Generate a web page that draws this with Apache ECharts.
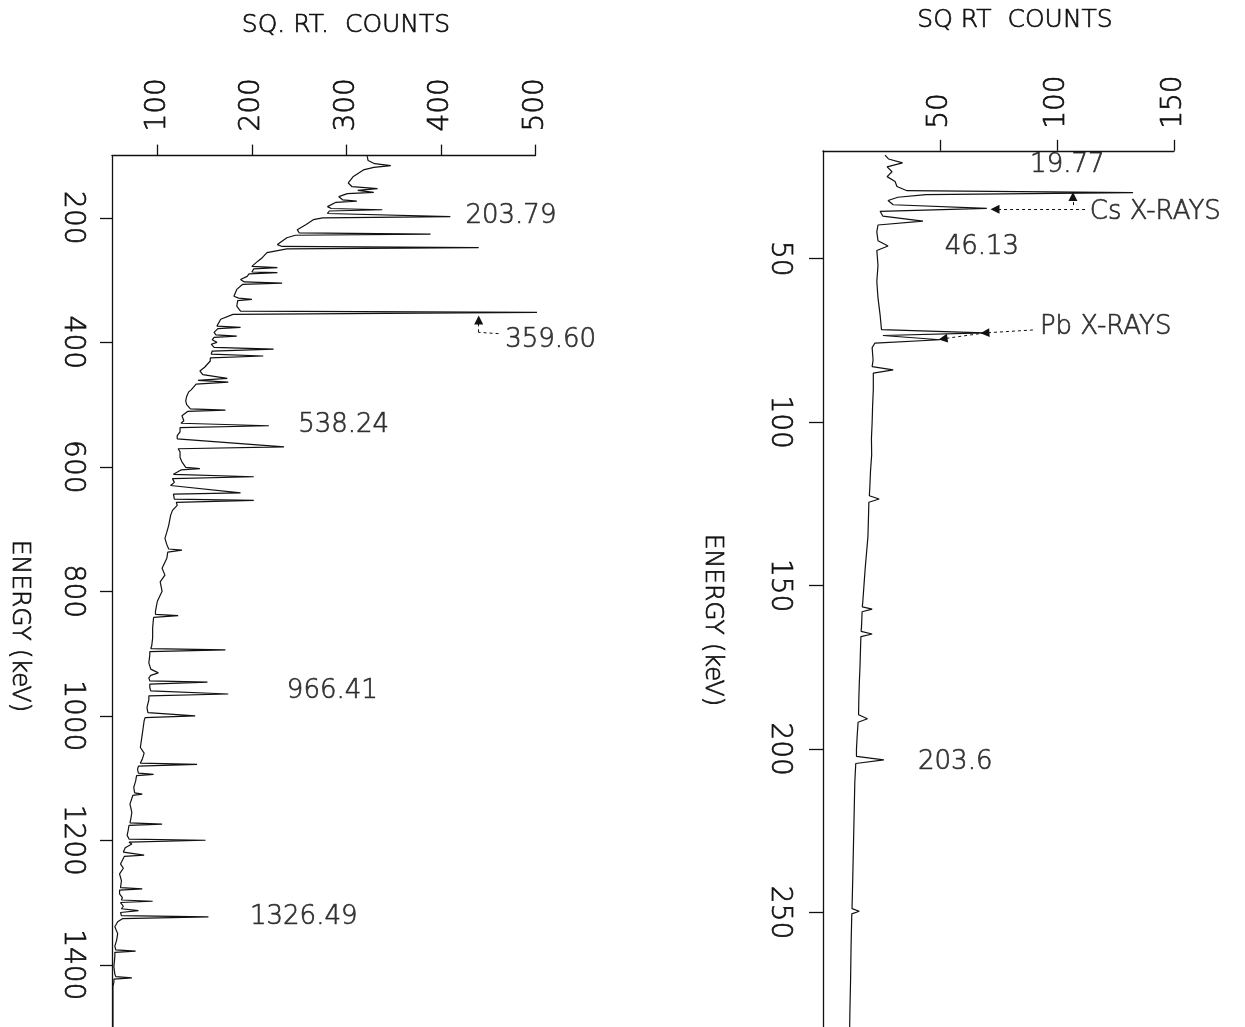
<!DOCTYPE html>
<html><head><meta charset="utf-8">
<script src="https://cdn.jsdelivr.net/npm/echarts@6/dist/echarts.min.js"></script>
<style>html,body{margin:0;padding:0;background:#fff}#c{width:1245px;height:1027px}</style>
</head><body><div id="c"></div>
<script>
// ---------- LEFT PANEL: energy (keV) and sqrt counts ----------
const leftEnergy = [101,108,113,116,119,123,134,144,150,153,156,159,161,166,171,173,175,182,185,187,189,193,196,198,200,203,211,219,224,226,228,232,243,246,248,250,256,264,270,278,280,282,287,288,290,294,299,303,305,307,315,326,329,331,333,342,350,352,355,363,374,376,378,384,388,390,392,396,400,403,408,411,414,419,422,425,430,440,446,452,458,461,464,467,470,476,480,487,494,500,507,509,511,518,526,530,534,537,544,550,555,568,571,576,585,592,601,603,605,612,616,619,625,630,642,644,646,652,654,657,662,670,678,694,705,715,725,732,734,737,747,763,774,785,800,816,832,837,839,842,859,875,888,892,894,897,902,915,925,931,935,939,944,946,949,955,960,963,965,968,974,987,995,998,1000,1003,1008,1030,1051,1060,1070,1076,1078,1081,1086,1092,1094,1096,1105,1115,1124,1126,1128,1142,1155,1165,1172,1174,1176,1185,1192,1198,1200,1203,1206,1212,1219,1222,1224,1226,1238,1245,1254,1265,1276,1278,1280,1286,1292,1296,1298,1300,1306,1310,1313,1316,1321,1323,1326,1331,1339,1350,1360,1370,1376,1378,1380,1387,1403,1415,1419,1421,1423,1428,1435,1500];
const leftSqrtCounts = [322,323,330,347,329,318,307,302,306,333,312,329,301,292,296,311,289,280,284,338,282,280,282,410,275,265,257,248,250,389,246,237,227,232,440,237,216,211,206,200,227,202,200,227,197,195,188,192,232,190,184,181,186,200,185,184,188,503,180,167,163,188,164,160,162,184,160,158,163,157,160,223,158,157,212,156,156,150,145,148,174,143,175,141,142,136,133,131,130,131,135,172,132,126,128,125,218,124,124,121,121,234,122,124,124,126,130,145,125,117,202,116,118,114,188,117,116,118,202,120,121,116,114,112,110,108,110,112,126,111,110,105,108,103,105,100,98,98,122,96,95,95,94,93,172,92,92,91,93,101,93,91,92,153,92,92,93,92,175,91,91,89,90,91,140,87,86,84,82,86,84,82,142,80,79,80,96,78,77,75,76,84,74,71,73,72,71,105,70,69,68,70,151,70,73,66,64,66,86,65,61,64,60,62,61,84,60,60,63,62,95,61,64,62,80,61,62,154,63,58,55,58,57,55,56,77,55,55,54,55,56,73,54,54,53,53];

// ---------- RIGHT PANEL ----------
const rightEnergy = [18.3,19.5,20.7,21.9,23.4,24.9,26.4,27.9,29.2,29.8,30.4,31.2,32.2,33.5,34.6,35.5,37,38.5,39.7,41.8,44.5,46.1,47.5,52,57,62,67.2,71.7,72.7,73.5,74.8,75.8,77.2,81,83,84,85,88,90,95,100,105,110,115,120,122.5,123.5,124.5,130,135,140,145,150,155,156.5,157.2,158,162,164,164.8,165.6,170,175,180,185,189.5,190.7,191.8,196,200,202.2,203.3,204.4,210,220,230,240,248.8,249.6,250.4,260,270,280,285];
const rightSqrtCounts = [26.5,28,34,27.4,29.5,27.4,30.8,31.6,35.9,132.5,44,32,27.8,30,70,24.4,25.6,42.7,23.5,23,23.5,27.8,23,23.5,23,23.5,24.4,25,69,25.6,50,22.2,21,21.4,21,30,21.5,21.5,21.5,21.2,21,20.7,20.8,20.3,20,19.8,24,19.6,19.4,19.2,18.6,18,17.5,17,16.8,21,16.7,16.5,16.3,21,16.2,16,15.8,15.5,15.3,15.2,19,15,14.6,14.3,14.3,26,14,13.6,13.3,13,12.7,12.4,15.5,12.3,12,11.8,11.5,11.4];

// ---------- AXIS TICKS ----------
const leftCountTicks = [100,200,300,400,500];
const leftEnergyTicks = [200,400,600,800,1000,1200,1400];
const rightCountTicks = [50,100,150];
const rightEnergyTicks = [50,100,150,200,250];

// ---------- PEAK ANNOTATIONS (text, sqrt-count anchor, energy anchor) ----------
const leftLabelText = ['203.79','359.60','538.24','966.41','1326.49'];
const leftLabelCount = [426,468,249,237,198];
const leftLabelEnergy = [198,397,534,960,1323];
const rightLabelText = ['19.77','Cs X-RAYS','46.13','Pb X-RAYS','203.6'];
const rightLabelCount = [88.5,114,52,92.7,40.6];
const rightLabelEnergy = [21.3,35.8,46.4,71.1,204];

const zip = (a, b) => a.map((v, i) => [v, b[i]]);
const FONT = "'DejaVu Sans', 'Liberation Sans', sans-serif";
const INK = '#111';
const thinText = { color: INK, fontFamily: FONT, fontWeight: 200, textBorderColor: INK, textBorderWidth: 0.7 };

function labelSeries(xi, texts, xs, ys) {
  return {
    type: 'scatter', xAxisIndex: xi, yAxisIndex: xi, symbolSize: 0, silent: true, clip: false,
    data: texts.map((t, i) => ({ value: [xs[i], ys[i]], name: t })),
    label: Object.assign({ show: true, position: 'right', distance: 0, formatter: p => p.name, fontSize: 26 }, thinText)
  };
}
function tickLabel(values, margin) {
  return Object.assign({ customValues: values, rotate: -90, margin: margin, fontSize: 28,
    formatter: v => String(v) }, thinText);
}

const arrowStyle = { color: INK, width: 1, type: [3, 3] };
const axisLine = { lineStyle: { color: INK, width: 1.3 } };

const chart = echarts.init(document.getElementById('c'), null, { renderer: 'canvas' });
chart.setOption({
  backgroundColor: '#fff',
  animation: false,
  grid: [
    { left: 112, top: 155.6, width: 423.4, height: 875 },
    { left: 823, top: 150.8, width: 351, height: 887 }
  ],
  xAxis: [
    { type: 'value', gridIndex: 0, position: 'top', min: 52, max: 500, splitLine: { show: false }, axisLine,
      axisTick: { length: 11, lineStyle: { color: INK, width: 1.3 }, customValues: leftCountTicks },
      axisLabel: tickLabel(leftCountTicks, 24) },
    { type: 'value', gridIndex: 1, position: 'top', min: 0, max: 150, splitLine: { show: false }, axisLine,
      axisTick: { length: 11, lineStyle: { color: INK, width: 1.3 }, customValues: rightCountTicks },
      axisLabel: tickLabel(rightCountTicks, 22) }
  ],
  yAxis: [
    { type: 'value', gridIndex: 0, inverse: true, min: 100, max: 1500, splitLine: { show: false }, axisLine,
      axisTick: { length: 12, lineStyle: { color: INK, width: 1.3 }, customValues: leftEnergyTicks },
      axisLabel: tickLabel(leftEnergyTicks, 26) },
    { type: 'value', gridIndex: 1, inverse: true, min: 17, max: 285, splitLine: { show: false }, axisLine,
      axisTick: { length: 14, lineStyle: { color: INK, width: 1.3 }, customValues: rightEnergyTicks },
      axisLabel: tickLabel(rightEnergyTicks, 30) }
  ],
  series: [
    { type: 'line', xAxisIndex: 0, yAxisIndex: 0, data: zip(leftSqrtCounts, leftEnergy),
      showSymbol: false, clip: false, silent: true,
      lineStyle: { color: INK, width: 1.2 },
      markLine: { silent: true, animation: false, label: { show: false }, lineStyle: arrowStyle, symbolSize: 9,
        data: [
          [{ coord: [461, 386], symbol: 'none' }, { coord: [440, 384], symbol: 'none' }],
          [{ coord: [440, 384], symbol: 'none' }, { coord: [440, 364], symbol: 'triangle' }]
        ] } },
    { type: 'line', xAxisIndex: 1, yAxisIndex: 1, data: zip(rightSqrtCounts, rightEnergy),
      showSymbol: false, clip: false, silent: true,
      lineStyle: { color: INK, width: 1.2 },
      markLine: { silent: true, animation: false, label: { show: false }, lineStyle: arrowStyle, symbolSize: 9,
        data: [
          [{ coord: [112, 34.9], symbol: 'none' }, { coord: [73.5, 34.9], symbol: 'triangle' }],
          [{ coord: [106.8, 33.6], symbol: 'none' }, { coord: [106.8, 31], symbol: 'triangle' }],
          [{ coord: [89.7, 71.8], symbol: 'none' }, { coord: [69.2, 72.7], symbol: 'triangle' }],
          [{ coord: [69.2, 72.7], symbol: 'none' }, { coord: [51.3, 74.5], symbol: 'triangle' }]
        ] } },
    labelSeries(0, leftLabelText, leftLabelCount, leftLabelEnergy),
    labelSeries(1, rightLabelText, rightLabelCount, rightLabelEnergy)
  ],
  graphic: [
    { type: 'text', x: 346, y: 25, style: { text: 'SQ. RT.  COUNTS', fill: INK, stroke: INK, lineWidth: 0.7, font: '200 25px ' + FONT, align: 'center', verticalAlign: 'middle' } },
    { type: 'text', x: 1015, y: 20, style: { text: 'SQ RT  COUNTS', fill: INK, stroke: INK, lineWidth: 0.7, font: '200 25px ' + FONT, align: 'center', verticalAlign: 'middle' } },
    { type: 'text', x: 19, y: 626, rotation: -Math.PI / 2, style: { text: 'ENERGY (keV)', fill: INK, stroke: INK, lineWidth: 0.7, font: '200 25px ' + FONT, align: 'center', verticalAlign: 'middle' } },
    { type: 'text', x: 712, y: 620, rotation: -Math.PI / 2, style: { text: 'ENERGY (keV)', fill: INK, stroke: INK, lineWidth: 0.7, font: '200 25px ' + FONT, align: 'center', verticalAlign: 'middle' } }
  ]
});
</script></body></html>
